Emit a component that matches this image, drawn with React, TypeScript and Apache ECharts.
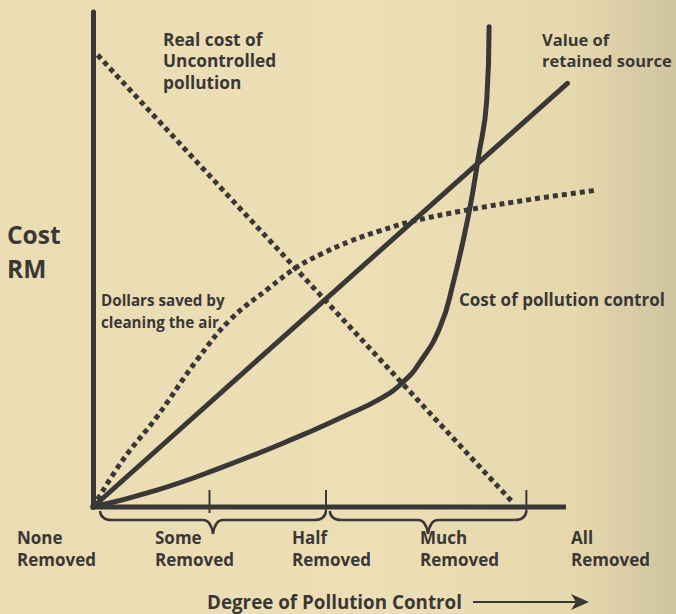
import React, { useEffect, useRef } from "react";
import * as echarts from "echarts";

// Degree of pollution control (0 = none removed, 100 = all removed) vs cost (relative units)
const realCostX = [1, 90];
const realCostY = [91.3, 1.0];

const retainedX = [0, 101.8];
const retainedY = [0, 85.6];

const savedX = [0, 6.4, 13.7, 22.3, 29.4, 38.0, 43.8, 49.4, 55.2, 61.6, 68.0, 80.3, 94.4, 108.2];
const savedY = [0, 9.5, 18.2, 29.7, 37.8, 44.4, 48.5, 51.3, 53.7, 55.8, 57.6, 60.0, 62.2, 64.0];

const controlX = [0, 13.7, 27.9, 42.3, 54.0, 61.5, 66.5, 70.2, 74.5, 77.3, 80.5, 82.6, 84.5, 85.0];
const controlY = [0, 3.4, 8.1, 13.5, 18.4, 21.8, 25.2, 29.3, 36.4, 45.3, 58.6, 70.1, 82.2, 97.0];

const axisEnd = 101.5;
const tickPositions = [25, 50, 93];
const braceStarts = [1.5, 50.8];
const braceEnds = [50, 93];

const bottomTop = ["None", "Some", "Half", "Much", "All"];
const bottomBottom = ["Removed", "Removed", "Removed", "Removed", "Removed"];

const zip = (xs: number[], ys: number[]) => xs.map((x, i) => [x, ys[i]]);

const INK = "#3a3836";
const FONT = "'Open Sans', Lato, sans-serif";

export default function App() {
  const ref = useRef<HTMLDivElement>(null);
  useEffect(() => {
    if (!ref.current) return;
    const chart = echarts.init(ref.current, null, { renderer: "svg" });

    const txt = (text: string, x: number, y: number, size: number, extra: any = {}) => ({
      type: "text",
      x,
      y,
      originX: 0,
      originY: 0,
      ...extra,
      style: {
        text,
        fill: INK,
        fontFamily: FONT,
        fontWeight: "bold",
        fontSize: size,
        verticalAlign: "middle",
        align: "left",
      },
    });

    const bottomXs = [17, 155, 292, 420, 571];
    const graphics: any[] = [
      txt("Real cost of", 163, 39, 17.3),
      txt("Uncontrolled", 163, 60, 17.3),
      txt("pollution", 163, 82, 17.3),
      txt("Value of", 542, 39, 16.5),
      txt("retained source", 542, 60, 16.5),
      txt("Cost", 7, 234, 24.5),
      txt("RM", 7, 268, 24.5),
      txt("Dollars saved by", 101, 300, 15.2),
      txt("cleaning the air", 101, 322, 15.2),
      txt("Cost of pollution control", 459, 299, 17),
      txt("Degree of Pollution Control", 207, 601, 20, { scaleX: 0.94 }),
      {
        type: "line",
        shape: { x1: 473, y1: 602, x2: 580, y2: 602 },
        style: { stroke: INK, lineWidth: 2 },
      },
      {
        type: "polygon",
        shape: { points: [[571, 594], [589, 602], [571, 610], [576, 602]] },
        style: { fill: INK },
      },
    ];
    bottomTop.forEach((t, i) => {
      graphics.push(txt(t, bottomXs[i], 537, 17));
      graphics.push(txt(bottomBottom[i], bottomXs[i], 559, 17));
    });

    const dotted = { color: INK, width: 5, type: [5, 4] as any, cap: "butt" as any };
    const solid = { color: INK, width: 5, cap: "round" as any };

    chart.setOption({
      animation: false,
      backgroundColor: "transparent",
      grid: { left: 93, right: 70.4, top: 12, bottom: 107, containLabel: false },
      xAxis: {
        type: "value",
        min: 0,
        max: 110,
        axisLine: { show: false },
        axisTick: { show: false },
        axisLabel: { show: false },
        splitLine: { show: false },
      },
      yAxis: {
        type: "value",
        min: 0,
        max: 100,
        axisLine: { show: true, lineStyle: { color: INK, width: 5 } },
        axisTick: { show: false },
        axisLabel: { show: false },
        splitLine: { show: false },
      },
      graphic: graphics,
      series: [
        {
          name: "x axis",
          type: "line",
          data: [[-0.5, 0], [axisEnd, 0]],
          showSymbol: false,
          lineStyle: { color: INK, width: 5, cap: "butt" },
          clip: false,
          silent: true,
        },
        {
          name: "Real cost of uncontrolled pollution",
          type: "line",
          data: zip(realCostX, realCostY),
          showSymbol: false,
          lineStyle: dotted,
          clip: false,
        },
        {
          name: "Value of retained source",
          type: "line",
          data: zip(retainedX, retainedY),
          showSymbol: false,
          lineStyle: solid,
          clip: false,
        },
        {
          name: "Dollars saved by cleaning the air",
          type: "line",
          data: zip(savedX, savedY),
          showSymbol: false,
          smooth: 0.4,
          lineStyle: dotted,
          clip: false,
        },
        {
          name: "Cost of pollution control",
          type: "line",
          data: zip(controlX, controlY),
          showSymbol: false,
          smooth: 0.5,
          lineStyle: solid,
          clip: false,
        },
        {
          name: "ticks",
          type: "custom",
          data: tickPositions.map((x) => [x, 0]),
          clip: false,
          renderItem: (params: any, api: any) => {
            const p = api.coord([api.value(0), 0]);
            return {
              type: "line",
              shape: { x1: p[0], y1: p[1] - 17, x2: p[0], y2: p[1] + 6 },
              style: { stroke: INK, lineWidth: 2 },
            };
          },
        },
        {
          name: "braces",
          type: "custom",
          data: braceStarts.map((s, i) => [s, braceEnds[i]]),
          clip: false,
          renderItem: (params: any, api: any) => {
            const a = api.coord([api.value(0), 0]);
            const b = api.coord([api.value(1), 0]);
            const y0 = a[1] + 4;
            const yh = a[1] + 13;
            const yt = a[1] + 27;
            const xa = a[0];
            const xb = b[0];
            const xm = (xa + xb) / 2;
            const st = { stroke: INK, lineWidth: 2.4, fill: null };
            return {
              type: "group",
              children: [
                { type: "bezierCurve", shape: { x1: xa, y1: y0, cpx1: xa + 1, cpy1: yh, x2: xa + 12, y2: yh }, style: st },
                { type: "line", shape: { x1: xa + 12, y1: yh, x2: xm - 10, y2: yh }, style: st },
                { type: "bezierCurve", shape: { x1: xm - 10, y1: yh, cpx1: xm - 2, cpy1: yh, x2: xm, y2: yt }, style: st },
                { type: "bezierCurve", shape: { x1: xm, y1: yt, cpx1: xm + 2, cpy1: yh, x2: xm + 10, y2: yh }, style: st },
                { type: "line", shape: { x1: xm + 10, y1: yh, x2: xb - 12, y2: yh }, style: st },
                { type: "bezierCurve", shape: { x1: xb - 12, y1: yh, cpx1: xb - 1, cpy1: yh, x2: xb, y2: y0 }, style: st },
              ],
            };
          },
        },
      ],
    });
    return () => chart.dispose();
  }, []);

  return (
    <div
      ref={ref}
      style={{
        position: "absolute",
        left: 0,
        top: 0,
        width: 676,
        height: 614,
        background:
          "linear-gradient(90deg, #eadcb3 0%, #ecdfb6 55%, #e6d8ad 85%, #cfc4a0 100%)",
      }}
    />
  );
}
